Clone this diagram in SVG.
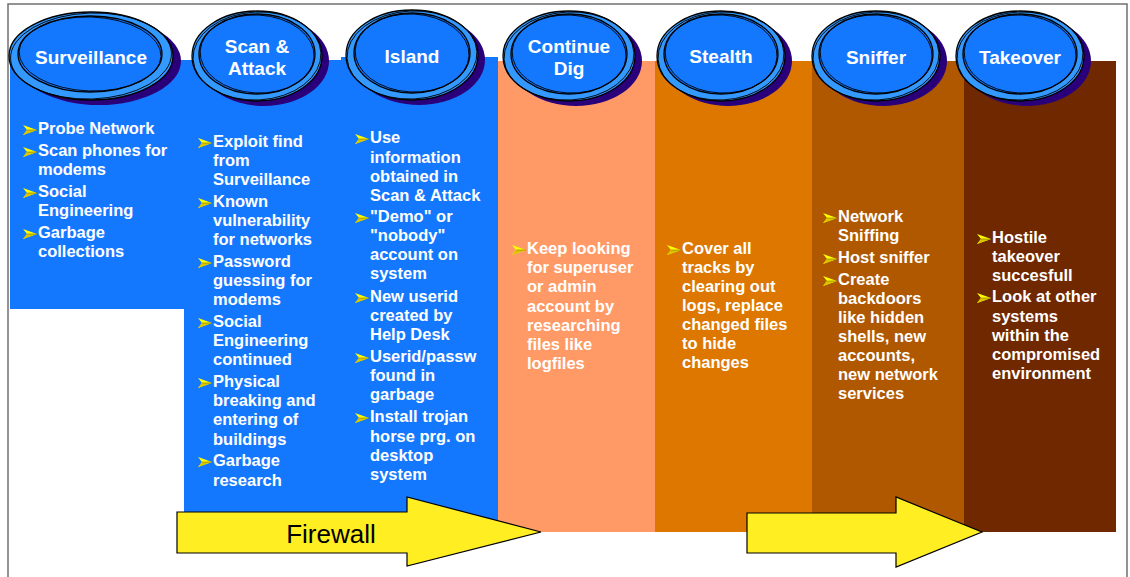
<svg xmlns="http://www.w3.org/2000/svg" xmlns:xlink="http://www.w3.org/1999/xlink" width="1130" height="577" viewBox="0 0 1130 577">
  <style>
    .frame { fill: none; stroke: #707070; stroke-width: 1.5; }
    .c-blue { fill: #1478FF; }
    .c-salmon { fill: #FF9966; }
    .c-orange { fill: #DD7700; }
    .c-rust { fill: #B05800; }
    .c-brown { fill: #702800; }
    .sh { fill: #29007A; }
    .ring { fill: #3399FF; stroke: #000; stroke-width: 1.3; }
    .core { fill: #1478FF; stroke: #000; stroke-width: 1.3; }
    .sketch { fill: none; stroke: #000; stroke-width: 0.9; }
    .title { font-family: "Liberation Sans", Arial, Helvetica, sans-serif; font-weight: bold; font-size: 19px; fill: #fff; text-anchor: middle; }
    .item { font-family: "Liberation Sans", Arial, Helvetica, sans-serif; font-weight: bold; font-size: 16.5px; fill: #fff; }
    .arrow { fill: #FFEE22; stroke: #000; stroke-width: 1.2; stroke-linejoin: miter; }
    .arrow-label { font-family: "Liberation Sans", Arial, Helvetica, sans-serif; font-size: 26px; fill: #000; text-anchor: middle; }
  </style>
  <defs>
    <!-- yellow arrowhead bullet -->
    <g id="bullet">
      <path d="M0,0 L14,5 L0,10 L4,5 Z" fill="#FFFF00"/>
      <path d="M4,5 L14,5 L0,10 Z" fill="#D8C400"/>
      <path d="M4,5 L14,5" stroke="#8A7A00" stroke-width="0.6" fill="none"/>
    </g>
  </defs>

  <!-- page frame -->
  <path class="frame" d="M8,577 V4 H1127 V577"/>

  <!-- Surveillance -->
  <g id="surveillance">
    <rect class="c-blue" x="10" y="60" width="174" height="249"/>
    <g transform="translate(91,56)">
      <ellipse class="sh" cx="8" cy="5" rx="82" ry="44"/>
      <ellipse class="ring" rx="82" ry="44"/>
      <ellipse class="sketch" rx="80.5" ry="43" transform="rotate(-2)"/>
      <ellipse class="core" cx="-1" cy="-2" rx="72" ry="38"/>
      <ellipse class="sketch" cx="-1" cy="-2" rx="71" ry="37" transform="rotate(2)"/>
      <text class="title" y="7.5">Surveillance</text>
    </g>
    <use href="#bullet" x="23" y="125"/>
    <use href="#bullet" x="23" y="147"/>
    <use href="#bullet" x="23" y="188"/>
    <use href="#bullet" x="23" y="229"/>
    <text class="item">
      <tspan x="38" y="134">Probe Network</tspan>
      <tspan x="38" y="156">Scan phones for</tspan>
      <tspan x="38" y="175">modems</tspan>
      <tspan x="38" y="197">Social</tspan>
      <tspan x="38" y="216">Engineering</tspan>
      <tspan x="38" y="238">Garbage</tspan>
      <tspan x="38" y="257">collections</tspan>
    </text>
  </g>

  <!-- Scan & Attack -->
  <g id="scan-attack">
    <rect class="c-blue" x="184" y="60" width="158" height="472"/>
    <g transform="translate(257,56)">
      <ellipse class="sh" cx="7" cy="5" rx="65" ry="45"/>
      <ellipse class="ring" rx="65" ry="45"/>
      <ellipse class="sketch" rx="64" ry="44" transform="rotate(-3)"/>
      <ellipse class="core" cx="0" cy="-2" rx="58" ry="40"/>
      <ellipse class="sketch" cx="0" cy="-2" rx="57" ry="39" transform="rotate(3)"/>
      <text class="title" y="-3">Scan &amp;</text>
      <text class="title" y="19">Attack</text>
    </g>
    <use href="#bullet" x="198" y="138"/>
    <use href="#bullet" x="198" y="198"/>
    <use href="#bullet" x="198" y="258"/>
    <use href="#bullet" x="198" y="318"/>
    <use href="#bullet" x="198" y="378"/>
    <use href="#bullet" x="198" y="457"/>
    <text class="item">
      <tspan x="213" y="147">Exploit find</tspan>
      <tspan x="213" y="166">from</tspan>
      <tspan x="213" y="185">Surveillance</tspan>
      <tspan x="213" y="207">Known</tspan>
      <tspan x="213" y="226">vulnerability</tspan>
      <tspan x="213" y="245">for networks</tspan>
      <tspan x="213" y="267">Password</tspan>
      <tspan x="213" y="286">guessing for</tspan>
      <tspan x="213" y="305">modems</tspan>
      <tspan x="213" y="327">Social</tspan>
      <tspan x="213" y="346">Engineering</tspan>
      <tspan x="213" y="365">continued</tspan>
      <tspan x="213" y="387">Physical</tspan>
      <tspan x="213" y="406">breaking and</tspan>
      <tspan x="213" y="425">entering of</tspan>
      <tspan x="213" y="445">buildings</tspan>
      <tspan x="213" y="466">Garbage</tspan>
      <tspan x="213" y="486">research</tspan>
    </text>
  </g>

  <!-- Island -->
  <g id="island">
    <rect class="c-blue" x="341" y="57" width="157" height="475"/>
    <g transform="translate(412,55)">
      <ellipse class="sh" cx="7" cy="5" rx="66" ry="45"/>
      <ellipse class="ring" rx="66" ry="45"/>
      <ellipse class="sketch" rx="65" ry="44" transform="rotate(-3)"/>
      <ellipse class="core" cx="0" cy="-2" rx="58" ry="40"/>
      <ellipse class="sketch" cx="0" cy="-2" rx="57" ry="39" transform="rotate(3)"/>
      <text class="title" y="8">Island</text>
    </g>
    <use href="#bullet" x="355" y="134"/>
    <use href="#bullet" x="355" y="213"/>
    <use href="#bullet" x="355" y="293"/>
    <use href="#bullet" x="355" y="353"/>
    <use href="#bullet" x="355" y="413"/>
    <text class="item">
      <tspan x="370" y="143">Use</tspan>
      <tspan x="370" y="163">information</tspan>
      <tspan x="370" y="182">obtained in</tspan>
      <tspan x="370" y="201">Scan &amp; Attack</tspan>
      <tspan x="370" y="222">"Demo" or</tspan>
      <tspan x="370" y="241">"nobody"</tspan>
      <tspan x="370" y="260">account on</tspan>
      <tspan x="370" y="279">system</tspan>
      <tspan x="370" y="302">New userid</tspan>
      <tspan x="370" y="321">created by</tspan>
      <tspan x="370" y="340">Help Desk</tspan>
      <tspan x="370" y="362">Userid/passw</tspan>
      <tspan x="370" y="381">found in</tspan>
      <tspan x="370" y="400">garbage</tspan>
      <tspan x="370" y="422">Install trojan</tspan>
      <tspan x="370" y="442">horse prg. on</tspan>
      <tspan x="370" y="461">desktop</tspan>
      <tspan x="370" y="480">system</tspan>
    </text>
  </g>

  <!-- Continue Dig -->
  <g id="continue-dig">
    <rect class="c-salmon" x="498" y="61" width="157" height="471"/>
    <g transform="translate(569,56)">
      <ellipse class="sh" cx="7" cy="5" rx="66" ry="45"/>
      <ellipse class="ring" rx="66" ry="45"/>
      <ellipse class="sketch" rx="65" ry="44" transform="rotate(-3)"/>
      <ellipse class="core" cx="0" cy="-2" rx="58" ry="40"/>
      <ellipse class="sketch" cx="0" cy="-2" rx="57" ry="39" transform="rotate(3)"/>
      <text class="title" y="-3">Continue</text>
      <text class="title" y="19">Dig</text>
    </g>
    <use href="#bullet" x="512" y="245"/>
    <text class="item">
      <tspan x="527" y="254">Keep looking</tspan>
      <tspan x="527" y="273">for superuser</tspan>
      <tspan x="527" y="292">or admin</tspan>
      <tspan x="527" y="312">account by</tspan>
      <tspan x="527" y="331">researching</tspan>
      <tspan x="527" y="350">files like</tspan>
      <tspan x="527" y="369">logfiles</tspan>
    </text>
  </g>

  <!-- Stealth -->
  <g id="stealth">
    <rect class="c-orange" x="655" y="61" width="157" height="471"/>
    <g transform="translate(721,56)">
      <ellipse class="sh" cx="7" cy="5" rx="64" ry="45"/>
      <ellipse class="ring" rx="64" ry="45"/>
      <ellipse class="sketch" rx="63" ry="44" transform="rotate(-3)"/>
      <ellipse class="core" cx="0" cy="-2" rx="57" ry="40"/>
      <ellipse class="sketch" cx="0" cy="-2" rx="56" ry="39" transform="rotate(3)"/>
      <text class="title" y="7">Stealth</text>
    </g>
    <use href="#bullet" x="667" y="245"/>
    <text class="item">
      <tspan x="682" y="254">Cover all</tspan>
      <tspan x="682" y="273">tracks by</tspan>
      <tspan x="682" y="292">clearing out</tspan>
      <tspan x="682" y="311">logs, replace</tspan>
      <tspan x="682" y="330">changed files</tspan>
      <tspan x="682" y="349">to hide</tspan>
      <tspan x="682" y="368">changes</tspan>
    </text>
  </g>

  <!-- Sniffer -->
  <g id="sniffer">
    <rect class="c-rust" x="812" y="61" width="152" height="471"/>
    <g transform="translate(876,56)">
      <ellipse class="sh" cx="7" cy="5" rx="64" ry="45"/>
      <ellipse class="ring" rx="64" ry="45"/>
      <ellipse class="sketch" rx="63" ry="44" transform="rotate(-3)"/>
      <ellipse class="core" cx="0" cy="-2" rx="57" ry="40"/>
      <ellipse class="sketch" cx="0" cy="-2" rx="56" ry="39" transform="rotate(3)"/>
      <text class="title" y="7.5">Sniffer</text>
    </g>
    <use href="#bullet" x="823" y="213"/>
    <use href="#bullet" x="823" y="254"/>
    <use href="#bullet" x="823" y="276"/>
    <text class="item">
      <tspan x="838" y="222">Network</tspan>
      <tspan x="838" y="241">Sniffing</tspan>
      <tspan x="838" y="263">Host sniffer</tspan>
      <tspan x="838" y="285">Create</tspan>
      <tspan x="838" y="304">backdoors</tspan>
      <tspan x="838" y="323">like hidden</tspan>
      <tspan x="838" y="342">shells, new</tspan>
      <tspan x="838" y="361">accounts,</tspan>
      <tspan x="838" y="380">new network</tspan>
      <tspan x="838" y="399">services</tspan>
    </text>
  </g>

  <!-- Takeover -->
  <g id="takeover">
    <rect class="c-brown" x="964" y="61" width="152" height="471"/>
    <g transform="translate(1020,56)">
      <ellipse class="sh" cx="7" cy="5" rx="64" ry="45"/>
      <ellipse class="ring" rx="64" ry="45"/>
      <ellipse class="sketch" rx="63" ry="44" transform="rotate(-3)"/>
      <ellipse class="core" cx="0" cy="-2" rx="57" ry="40"/>
      <ellipse class="sketch" cx="0" cy="-2" rx="56" ry="39" transform="rotate(3)"/>
      <text class="title" y="7.5">Takeover</text>
    </g>
    <use href="#bullet" x="977" y="234"/>
    <use href="#bullet" x="977" y="293"/>
    <text class="item">
      <tspan x="992" y="243">Hostile</tspan>
      <tspan x="992" y="262">takeover</tspan>
      <tspan x="992" y="281">succesfull</tspan>
      <tspan x="992" y="302">Look at other</tspan>
      <tspan x="992" y="322">systems</tspan>
      <tspan x="992" y="341">within the</tspan>
      <tspan x="992" y="360">compromised</tspan>
      <tspan x="992" y="379">environment</tspan>
    </text>
  </g>

  <!-- block arrows along the bottom -->
  <g id="connectors">
    <g id="firewall">
      <path class="arrow" d="M177,512 H407 V497 L541,532 L407,566 V553 H177 Z"/>
      <text class="arrow-label" x="331" y="543">Firewall</text>
    </g>
    <g id="escalation">
      <path class="arrow" d="M747,513 H896 V497 L982,532 L896,567 V553 H747 Z"/>
    </g>
  </g>
</svg>
